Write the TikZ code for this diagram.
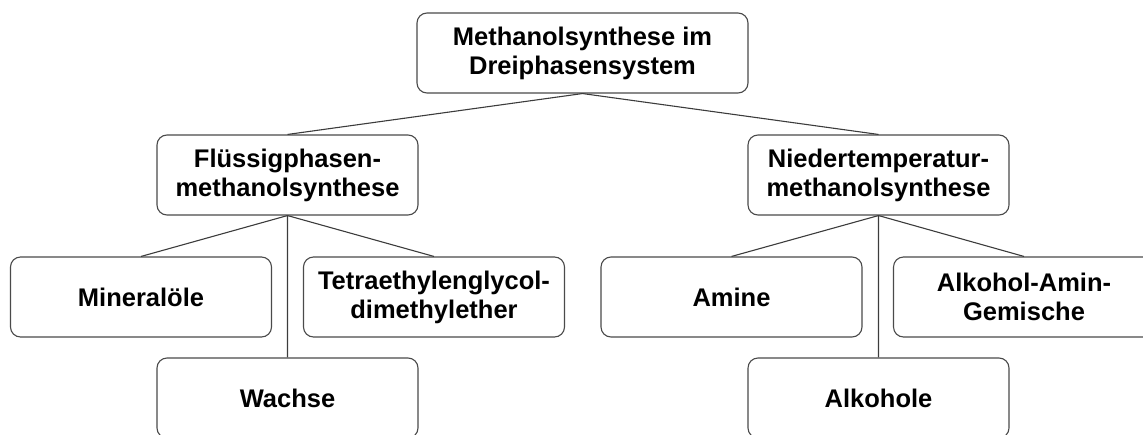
\documentclass[tikz,border=0pt]{standalone}
\usepackage{fontspec}
\setmainfont{Liberation Sans}
\usepackage{xcolor}
\definecolor{edgegray}{HTML}{3C3C3C}
\definecolor{boxgray}{HTML}{4A4A4A}

\begin{document}
\begin{tikzpicture}[
    x=1pt, y=-1pt,
    box/.style={draw=boxgray, line width=1.1pt, rounded corners=10pt, align=center,
      minimum width=261pt, minimum height=80pt, inner sep=0pt,
      font=\fontsize{25.5}{29}\selectfont\bfseries},
    link/.style={draw=edgegray, line width=1.1pt}
  ]
    \useasboundingbox (0,0) rectangle (1143,434);
    \node[box, minimum width=331pt] (r) at (582.5,53) {Methanolsynthese im\\Dreiphasensystem};
    \node[box] (f) at (287.5,175) {Flüssigphasen-\\methanolsynthese};
    \node[box] (n) at (878.5,175) {Niedertemperatur-\\methanolsynthese};
    \node[box] (m) at (141,297) {Mineralöle};
    \node[box] (t) at (434,297) {Tetraethylenglycol-\\dimethylether};
    \node[box] (w) at (287.5,398) {Wachse};
    \node[box] (am) at (731.5,297) {Amine};
    \node[box] (ag) at (1024,297) {Alkohol-Amin-\\Gemische};
    \node[box] (ak) at (878.5,398) {Alkohole};

    \draw[link] (r.south)--(f.north) (r.south)--(n.north);
    \draw[link] (f.south)--(m.north) (f.south)--(t.north) (f.south)--(w.north);
    \draw[link] (n.south)--(am.north) (n.south)--(ag.north) (n.south)--(ak.north);
  \end{tikzpicture}
\end{document}
